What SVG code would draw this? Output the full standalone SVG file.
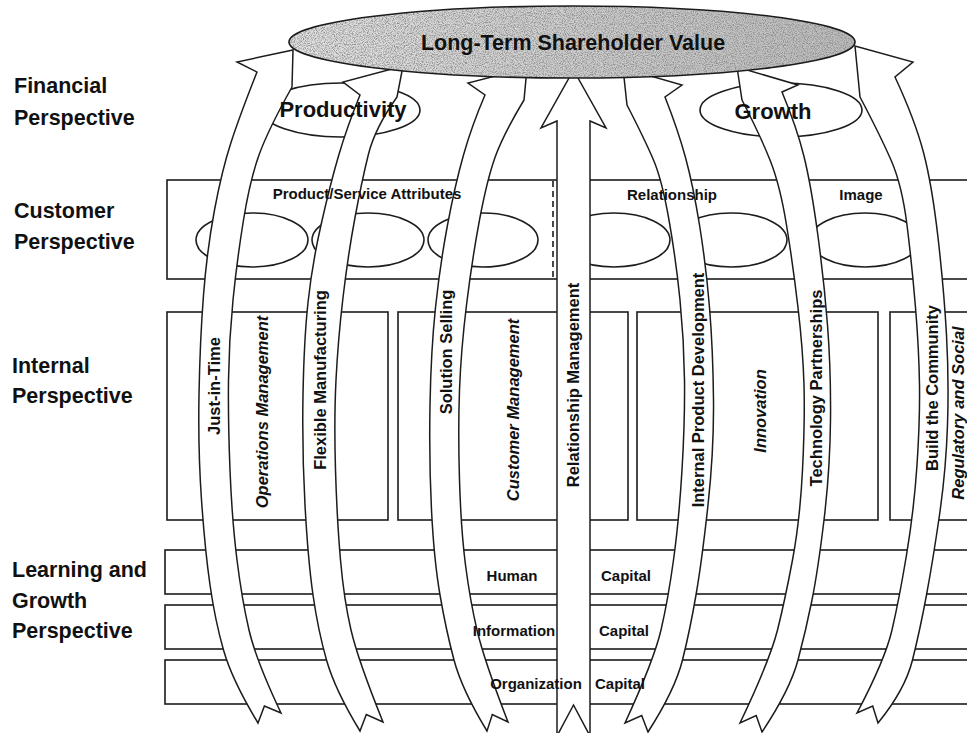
<svg xmlns="http://www.w3.org/2000/svg" width="967" height="733" viewBox="0 0 967 733">
<defs>
<linearGradient id="gray" x1="0" y1="0" x2="1" y2="0">
<stop offset="0" stop-color="#e2e2e2"/>
<stop offset="0.5" stop-color="#cdcdcd"/>
<stop offset="1" stop-color="#bdbdbd"/>
</linearGradient>
<filter id="speck" x="0" y="0" width="100%" height="100%">
<feTurbulence type="fractalNoise" baseFrequency="0.9" numOctaves="2" seed="7" result="n"/>
<feColorMatrix in="n" type="matrix" values="0 0 0 0 0.25  0 0 0 0 0.25  0 0 0 0 0.25  2.6 0 0 0 -1.05" result="a"/>
<feComposite in="a" in2="SourceGraphic" operator="in"/>
</filter>
<style>
.ln{fill:none;stroke:#1c1c1c;stroke-width:1.6}
.bx{fill:#fff;stroke:#1c1c1c;stroke-width:1.6}
.ar{fill:#fff;stroke:#1c1c1c;stroke-width:1.5;stroke-linejoin:miter}
.t{font-family:"Liberation Sans",Arial,sans-serif;font-weight:bold;fill:#111}
.big{font-size:21.5px}
.mid{font-size:15px}
.lab{font-size:16.5px;text-anchor:middle}
.it{font-style:italic}
.c{text-anchor:middle}
</style>
</defs>
<rect x="0" y="0" width="967" height="733" fill="#fff"/>

<g id="customer-band">
<rect class="bx" x="167" y="180" width="810" height="99"/>
<line class="ln" x1="553" y1="181" x2="553" y2="278" stroke-dasharray="6,4"/>
<ellipse class="bx" cx="252" cy="240" rx="56" ry="27"/>
<ellipse class="bx" cx="368" cy="240" rx="56" ry="27"/>
<ellipse class="bx" cx="483" cy="240" rx="55" ry="27"/>
<ellipse class="bx" cx="614" cy="240" rx="56" ry="27"/>
<ellipse class="bx" cx="731" cy="240" rx="56" ry="27"/>
<ellipse class="bx" cx="865" cy="240" rx="55" ry="27"/>
</g>

<g id="internal-boxes">
<rect id="box-operations" class="bx" x="167" y="312" width="221" height="208"/>
<rect id="box-customer" class="bx" x="398" y="312" width="230" height="208"/>
<rect id="box-innovation" class="bx" x="637" y="312" width="241" height="208"/>
<rect id="box-regulatory" class="bx" x="890" y="312" width="90" height="208"/>
</g>

<g id="learning-rows">
<rect id="row-human" class="bx" x="165" y="550" width="815" height="44"/>
<rect id="row-information" class="bx" x="165" y="605" width="815" height="44"/>
<rect id="row-organization" class="bx" x="165" y="660" width="815" height="44"/>
</g>

<g id="productivity-node"><ellipse class="bx" cx="341" cy="110" rx="79" ry="27"/></g>
<g id="growth-node"><ellipse class="bx" cx="781" cy="110" rx="81" ry="27"/></g>

<g id="connectors">
<path id="arrow-jit" class="ar" d="M293,50 L292,87 Q268,130 259,155 Q250,180 243.5,220 Q237,260 233,300 Q229,340 228.5,380 Q228,420 230,470 Q232,520 237,560 Q242,600 249,630 Q256,660 281,713 L264.4,706 L258,723 Q232,680 223.5,650 Q215,620 210,585 Q205,550 201.5,500 Q198,450 199,395 Q200,340 203.5,295 Q207,250 214.5,210 Q222,170 231,142.5 Q240,115 257,72 L237,62 Z"/>
<path id="arrow-flex" class="ar" d="M403,66 L397,97 Q375,128 368.5,154 Q362,180 355,217.5 Q348,255 343,297.5 Q338,340 336,380 Q334,420 335.5,470 Q337,520 340.5,560 Q344,600 351,630 Q358,660 383,722 L366.3,714.5 L360,731 Q335,690 326.5,660 Q318,630 313,595 Q308,560 305,505 Q302,450 303,395 Q304,340 308,302.5 Q312,265 321,225 Q330,185 338.5,156 Q347,127 360,95 L343,82 Z"/>
<path id="arrow-solution" class="ar" d="M527,68 L524,100 Q503,135 495,157.5 Q487,180 479.5,220 Q472,260 466.5,305 Q461,350 459.5,390 Q458,430 459.5,480 Q461,530 465.5,565 Q470,600 477,630 Q484,660 508,722 L492.3,714.5 L487,731 Q462,690 454,660 Q446,630 440,595 Q434,560 431.5,510 Q429,460 430,405 Q431,350 435.5,307.5 Q440,265 447.5,225 Q455,185 463.5,155 Q472,125 485,95 L468,83 Z"/>
<path id="arrow-relationship" class="ar" d="M573.5,70 L606,128 L590,121 L590,736 L573.5,705 L557,736 L557,121 L541,128 Z"/>
<path id="arrow-ipd" class="ar" d="M623,68 L627,105 Q645,140 653.5,160 Q662,180 669,220 Q676,260 680,300 Q684,340 684.5,380 Q685,420 682,470 Q679,520 673.5,560 Q668,600 661,630 Q654,660 625,723 L641.7,715.5 L648,732 Q675,690 682.5,660 Q690,630 696,595 Q702,560 708,505 Q714,450 713.5,400 Q713,350 709.5,307.5 Q706,265 699.5,225 Q693,185 685.5,157.5 Q678,130 665,97 L682,85 Z"/>
<path id="arrow-tech" class="ar" d="M737,67 L742,100 Q760,135 770,160 Q780,185 786.5,225 Q793,265 798,307.5 Q803,350 804,385 Q805,420 802.5,470 Q800,520 792.5,560 Q785,600 777.5,630 Q770,660 740,723 L756.2,715.5 L762,732 Q790,690 798,660 Q806,630 812,600 Q818,570 824,520 Q830,470 830.5,420 Q831,370 827.5,325 Q824,280 817.5,232.5 Q811,185 804,156.5 Q797,128 782,92 L798,85 Z"/>
<path id="arrow-build" class="ar" d="M855,46 L860,97 Q880,135 891,160 Q902,185 907,225 Q912,265 915.5,307.5 Q919,350 919.5,385 Q920,420 917,465 Q914,510 906.5,555 Q899,600 892,630 Q885,660 857,713 L872.7,706 L878,723 Q905,690 912.5,660 Q920,630 926.5,595 Q933,560 939.5,515 Q946,470 947.5,425 Q949,380 946.5,335 Q944,290 938,237.5 Q932,185 923.5,152.5 Q915,120 895,77 L913,62 Z"/>
</g>

<g id="shareholder-value">
<ellipse cx="572" cy="42" rx="283" ry="36" fill="url(#gray)"/>
<ellipse cx="572" cy="42" rx="283" ry="36" fill="#000" filter="url(#speck)"/>
<ellipse cx="572" cy="42" rx="283" ry="36" fill="none" stroke="#1c1c1c" stroke-width="1.6"/>
<text class="t c" x="573" y="50" font-size="21.5">Long-Term Shareholder Value</text>
</g>

<g id="financial-labels">
<text class="t c" x="343" y="117" font-size="22">Productivity</text>
<text class="t c" x="773" y="119" font-size="22">Growth</text>
</g>

<g id="customer-labels">
<text class="t mid c" x="367" y="199">Product/Service Attributes</text>
<text class="t mid c" x="672" y="200">Relationship</text>
<text class="t mid c" x="861" y="200">Image</text>
</g>

<g id="internal-labels">
<text class="t lab it" transform="translate(262,412) rotate(-90)" y="6">Operations Management</text>
<text class="t lab it" transform="translate(513,410) rotate(-90)" y="6">Customer Management</text>
<text class="t lab it" transform="translate(760,411) rotate(-90)" y="6">Innovation</text>
<text class="t lab it" transform="translate(958,413) rotate(-90)" y="6">Regulatory and Social</text>
</g>

<g id="learning-labels">
<text class="t mid c" x="512" y="581">Human</text>
<text class="t mid c" x="626" y="581">Capital</text>
<text class="t mid c" x="514" y="636">Information</text>
<text class="t mid c" x="624" y="636">Capital</text>
<text class="t mid c" x="536" y="689">Organization</text>
<text class="t mid c" x="620" y="689">Capital</text>
</g>

<g id="arrow-labels">
<text class="t lab" transform="translate(214,386) rotate(-90)" y="6">Just-in-Time</text>
<text class="t lab" transform="translate(320,380) rotate(-90)" y="6">Flexible Manufacturing</text>
<text class="t lab" transform="translate(446,352) rotate(-90)" y="6">Solution Selling</text>
<text class="t lab" transform="translate(573,385) rotate(-90)" y="6">Relationship Management</text>
<text class="t lab" transform="translate(698,390) rotate(-90)" y="6">Internal Product Development</text>
<text class="t lab" transform="translate(816,388) rotate(-90)" y="6">Technology Partnerships</text>
<text class="t lab" transform="translate(932,388) rotate(-90)" y="6">Build the Community</text>
</g>

<g id="perspective-labels">
<text class="t big" x="14" y="93">Financial</text>
<text class="t big" x="14" y="125">Perspective</text>
<text class="t big" x="14" y="218">Customer</text>
<text class="t big" x="14" y="249">Perspective</text>
<text class="t big" x="12" y="373">Internal</text>
<text class="t big" x="12" y="403">Perspective</text>
<text class="t big" x="12" y="577">Learning and</text>
<text class="t big" x="12" y="608">Growth</text>
<text class="t big" x="12" y="638">Perspective</text>
</g>
</svg>
